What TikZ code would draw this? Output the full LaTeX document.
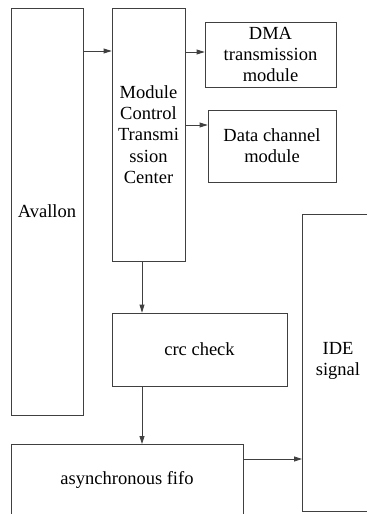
\documentclass[tikz,border=0pt]{standalone}
\usepackage{fontspec}
\setmainfont{Liberation Serif}
\newfontfamily\figfont{Liberation Serif}
\usetikzlibrary{arrows.meta}
\begin{document}
\begin{tikzpicture}[x=1pt,y=-1pt,
  box/.style={draw=black!75,line width=0.8pt,rectangle,inner sep=0pt,align=center,
    font=\figfont\fontsize{18.5}{21.3}\selectfont},
  lbl/.style={inner sep=0pt,align=center,font=\figfont\fontsize{18.5}{21.3}\selectfont},
  edge/.style={draw=black!75,line width=0.8pt},
  arr/.style={edge,-{Triangle[length=8pt,width=5pt]}}]
\useasboundingbox (0,0) rectangle (367,514);
\node[box,minimum width=72pt,minimum height=407pt] (av) at (47,211.5) {Avallon};
\node[box,minimum width=73pt,minimum height=253pt] (mc) at (148.5,134.5) {Module\\Control\\Transmi\\ssion\\Center};
\node[box,minimum width=131pt,minimum height=65pt] (dma) at (270.5,54.5) {DMA\\transmission\\module};
\node[box,minimum width=128pt,minimum height=72pt] (dc) at (272,146) {Data channel\\module};
\node[box,minimum width=175pt,minimum height=73pt] (crc) at (199.5,349.5) {crc check};
\node[lbl] (fifo) at (127,480) {asynchronous fifo};
\node[lbl] (ide) at (338,361) {IDE\\signal};
% open boxes clipped by the page edge
\draw[edge] (11,514) -- (11,444) -- (243,444) -- (243,514);
\draw[edge] (367,214) -- (302,214) -- (302,511) -- (367,511);
\coordinate (fifoE) at (243,459);
\coordinate (ideW) at (302,459);
% connectors
\draw[arr] (av.east |- 0,51) -- (mc.west |- 0,51);
\draw[arr] (mc.east |- 0,52) -- (dma.west |- 0,52);
\draw[arr] (mc.east |- 0,125) -- (dc.west |- 0,125);
\draw[arr] (mc.south -| 142,0) -- (crc.north -| 142,0);
\draw[arr] (crc.south -| 142,0) -- (142,444);
\draw[arr] (fifoE) -- (ideW);
\end{tikzpicture}
\end{document}
